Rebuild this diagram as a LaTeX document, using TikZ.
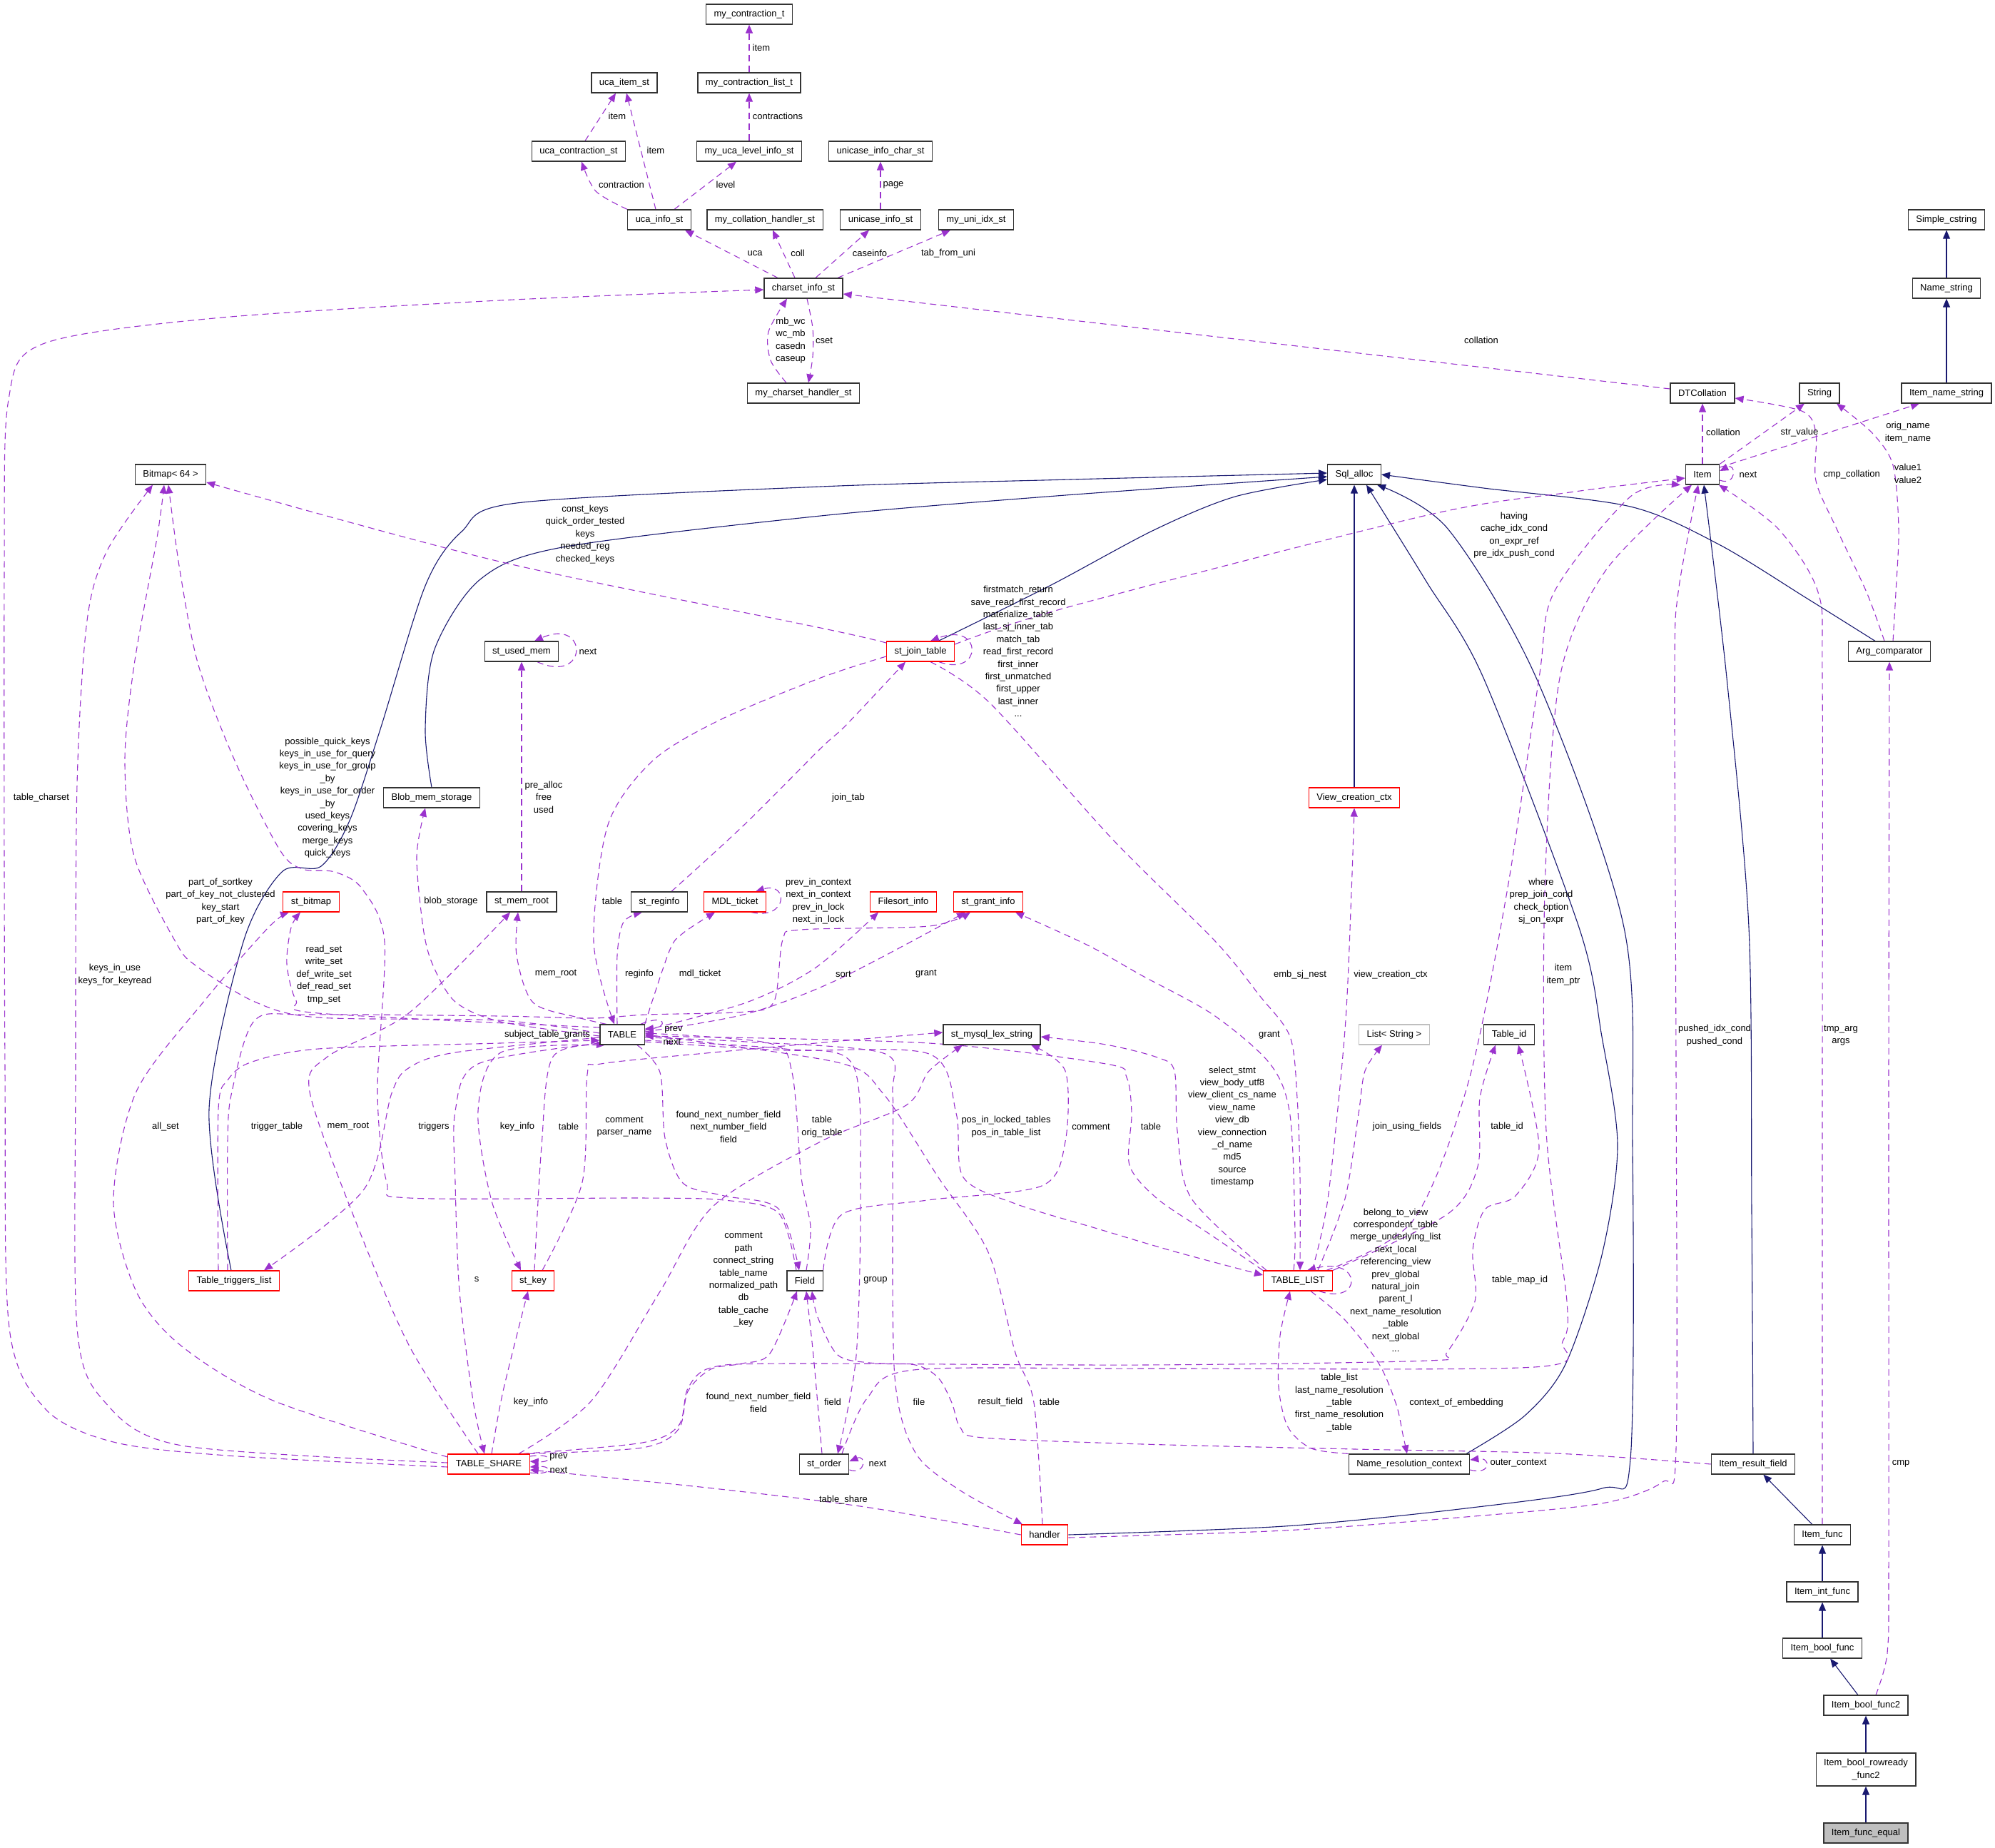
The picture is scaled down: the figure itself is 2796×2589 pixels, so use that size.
\documentclass[tikz,border=0pt]{standalone}
\usepackage{fontspec}
\setmainfont{Liberation Sans}
\usepackage{tikz}
\usetikzlibrary{arrows.meta, positioning, calc, backgrounds}
\definecolor{cUse}{RGB}{154,50,205}
\definecolor{cBase}{RGB}{25,25,112}
\definecolor{cTrunc}{RGB}{255,0,0}
\definecolor{cGray}{RGB}{191,191,191}
\newcommand{\dfont}{\fontsize{13}{17.4}\selectfont}
\tikzset{
	cls/.style={rectangle, draw=black!80, line width=1.2pt, fill=white, minimum height=28pt, inner xsep=11pt, inner ysep=0pt, text centered, align=center, font=\dfont},
	trunc/.style={cls, draw=cTrunc},
	extcls/.style={cls, draw=cGray},
	focus/.style={cls, fill=cGray},
	uses/.style={draw=cUse, line width=1.1pt, dash pattern=on 9pt off 6pt, -{Triangle[length=12pt, width=10pt]}},
	isa/.style={draw=cBase, line width=1.1pt, -{Triangle[length=12pt, width=10pt]}},
	% edge labels
	elabel/.style={font=\dfont, align=center, inner sep=0pt},
}

\begin{document}
\begin{tikzpicture}[x=1pt, y=-1pt]
\useasboundingbox (0,0) rectangle (2796,2589);
% classes
\node[cls] (mct) at (1050,20) {my\_contraction\_t};
\node[cls] (mclt) at (1050,116) {my\_contraction\_list\_t};
\node[cls] (ucaitem) at (875,116) {uca\_item\_st};
\node[cls] (ucacontr) at (811,212) {uca\_contraction\_st};
\node[cls] (mulis) at (1050,212) {my\_uca\_level\_info\_st};
\node[cls] (unichar) at (1234,212) {unicase\_info\_char\_st};
\node[cls] (ucainfo) at (924,308) {uca\_info\_st};
\node[cls] (mcoll) at (1072,308) {my\_collation\_handler\_st};
\node[cls] (uniinfo) at (1234,308) {unicase\_info\_st};
\node[cls] (uniidx) at (1368,308) {my\_uni\_idx\_st};
\node[cls] (simple) at (2728,308) {Simple\_cstring};
\node[cls] (charset) at (1126,404) {charset\_info\_st};
\node[cls] (namestr) at (2728,404) {Name\_string};
\node[cls] (mch) at (1126,551) {my\_charset\_handler\_st};
\node[cls] (dtc) at (2386,551) {DTCollation};
\node[cls] (string) at (2550,551) {String};
\node[cls] (itemname) at (2728,551) {Item\_name\_string};
\node[cls] (bitmap) at (239,665) {Bitmap< 64 >};
\node[cls] (sqlalloc) at (1898,665) {Sql\_alloc};
\node[cls] (item) at (2386,665) {Item};
\node[cls] (usedmem) at (731,913) {st\_used\_mem};
\node[trunc] (jointab) at (1290,913) {st\_join\_table};
\node[cls] (argcmp) at (2648,913) {Arg\_comparator};
\node[cls] (blob) at (605,1118) {Blob\_mem\_storage};
\node[trunc] (vcc) at (1898,1118) {View\_creation\_ctx};
\node[trunc] (bitmapst) at (436,1264) {st\_bitmap};
\node[cls] (memroot) at (731,1264) {st\_mem\_root};
\node[cls] (reginfo) at (924,1264) {st\_reginfo};
\node[trunc] (mdl) at (1030,1264) {MDL\_ticket};
\node[trunc] (filesort) at (1266,1264) {Filesort\_info};
\node[trunc] (grant) at (1385,1264) {st\_grant\_info};
\node[cls] (table) at (872,1450) {TABLE};
\node[cls] (lexstr) at (1390,1450) {st\_mysql\_lex\_string};
\node[extcls] (list) at (1954,1450) {List< String >};
\node[cls] (tableid) at (2115,1450) {Table\_id};
\node[trunc] (trig) at (328,1795) {Table\_triggers\_list};
\node[trunc] (key) at (747,1795) {st\_key};
\node[cls] (field) at (1128,1795) {Field};
\node[trunc] (tablelist) at (1819,1795) {TABLE\_LIST};
\node[trunc] (share) at (685,2052) {TABLE\_SHARE};
\node[cls] (order) at (1155,2052) {st\_order};
\node[cls] (nrc) at (1975,2052) {Name\_resolution\_context};
\node[cls] (irf) at (2457,2052) {Item\_result\_field};
\node[trunc] (handler) at (1464,2151) {handler};
\node[cls] (ifunc) at (2554,2151) {Item\_func};
\node[cls] (iint) at (2554,2231) {Item\_int\_func};
\node[cls] (ibool) at (2554,2310) {Item\_bool\_func};
\node[cls] (ibool2) at (2615,2390) {Item\_bool\_func2};
\node[cls, minimum height=46pt] (irr) at (2615,2480) {Item\_bool\_rowready\\\_func2};
\node[focus] (ieq) at (2615,2569) {Item\_func\_equal};

\begin{scope}[on background layer]
% charset cluster
\draw[uses] (mclt) -- (mct);
\draw[uses] (mulis) -- (mclt);
\draw[uses] ([xshift=9pt]ucacontr.north) -- ([xshift=-12pt]ucaitem.south);
\draw[uses] ([xshift=-5pt]ucainfo.north) -- ([xshift=3pt]ucaitem.south);
\draw[uses] plot[smooth] coordinates {(ucainfo.north west) (835,268) ([xshift=4pt]ucacontr.south)};
\draw[uses] ([xshift=21pt]ucainfo.north) -- ([xshift=-18pt]mulis.south);
\draw[uses] (uniinfo) -- (unichar);
\draw[uses] ([xshift=-36pt]charset.north) -- ([xshift=36pt]ucainfo.south);
\draw[uses] ([xshift=-12pt]charset.north) -- ([xshift=11pt]mcoll.south);
\draw[uses] ([xshift=17pt]charset.north) -- ([xshift=-16pt]uniinfo.south);
\draw[uses] ([xshift=48pt]charset.north) -- ([xshift=-36pt]uniidx.south);
\draw[uses] plot[smooth] coordinates {([xshift=-24pt]mch.north) (1080,505) (1077,465) ([xshift=-23pt]charset.south)};
\draw[uses] plot[smooth] coordinates {([xshift=5pt]charset.south) (1139,460) (1139,500) ([xshift=7pt]mch.north)};
\draw[uses] plot[smooth] coordinates {([yshift=-4pt]share.west) (319,2040) (159,2021) (64,1975) (13,1861) (7,1500) (6,800) (12,560) (60,482) (300,446) (700,421) ([yshift=-2pt]charset.west)};
\draw[uses] ([yshift=6pt]dtc.west) -- ([yshift=-8pt]charset.east);
% Item side
\draw[isa] (namestr) -- (simple);
\draw[isa] (itemname) -- (namestr);
\draw[uses] (item) -- (dtc);
\draw[uses] (item.north east) -- ([xshift=-21pt]string.south);
\draw[uses] ([yshift=10pt]item.east) -- ([xshift=-38pt]itemname.south);
\draw[uses] ([yshift=-8pt]item.east) .. controls (2434,682) and (2434,648) .. ([yshift=5pt]item.east);
\draw[uses] plot[smooth] coordinates {([xshift=-7pt]argcmp.north) (2616,830) (2574,741) (2545,674) (2545,607) (2525,576) ([yshift=-7pt]dtc.east)};
\draw[uses] plot[smooth] coordinates {([xshift=5pt]argcmp.north) (2657,830) (2661,741) (2653,652) (2624,607) ([xshift=24pt]string.south)};
\draw[isa] plot[smooth] coordinates {([xshift=-20pt]argcmp.north) (2533,839) (2409,763) (2285,710) (2079,684) (sqlalloc.east)};
\draw[isa] plot[smooth] coordinates {(irf.north) (2455,1700) (2451,1300) (2420,950) ([xshift=2pt]item.south)};
\draw[isa] (ifunc) -- (irf);
\draw[isa] (iint) -- (ifunc);
\draw[isa] (ibool) -- (iint);
\draw[isa] (ibool2) -- (ibool);
\draw[isa] (irr) -- (ibool2);
\draw[isa] (ieq) -- (irr);
\draw[uses] plot[smooth] coordinates {([xshift=14pt]ibool2.north) (2645,2317) (2647,2200) (2647,1500) (argcmp.south)};
\draw[uses] plot[smooth] coordinates {(ifunc.north) (2554,2000) (2554,1500) (2554,950) (2548,830) (2492,741) ([xshift=23pt]item.south)};
\draw[uses] plot[smooth] coordinates {([yshift=-4pt]handler.east) (1800,2145) (2054,2126) (2245,2107) (2330,2077) (2349,2030) (2349,1500) (2347,950) (2352,830) ([xshift=-6pt]item.south)};
% Sql_alloc bases
\draw[isa] plot[smooth] coordinates {(handler.east) (1800,2139) (2054,2114) (2245,2086) (2285,2045) (2288,1606) (2276,1300) (2153,950) (2029,741) ([xshift=32pt]sqlalloc.south)};
\draw[isa] plot[smooth] coordinates {([xshift=80pt]nrc.north) (2137,1984) (2194,1912) (2245,1759) (2267,1606) (2245,1453) (2213,1300) (2079,950) (1999,815) ([xshift=17pt]sqlalloc.south)};
\draw[isa] (vcc) -- (sqlalloc);
\draw[isa] plot[smooth] coordinates {([xshift=25pt]jointab.north) (1473,820) (1617,743) (1731,696) ([yshift=-7pt]sqlalloc.west)};
\draw[isa] plot[smooth] coordinates {(blob.north) (596,1022) (609,910) (673,812) (788,767) (1150,723) (1480,695) ([yshift=-3pt]sqlalloc.west)};
\draw[isa] plot[smooth] coordinates {([xshift=-4pt]trig.north) (293,1555) (341,1320) (395,1222) (450,1214) (490,1150) (533,1022) (596,821) (647,745) (724,705) (1150,682) (1500,672) ([yshift=2pt]sqlalloc.west)};
% Bitmap and memory
\draw[uses] plot[smooth] coordinates {([yshift=12pt]jointab.west) (1150,880) (700,787) ([yshift=-11pt]bitmap.east)};
\draw[uses] ([xshift=22pt]usedmem.south) .. controls (825,960) and (825,865) .. ([xshift=18pt]usedmem.north);
\draw[uses] (memroot) -- (usedmem);
\draw[uses] plot[smooth] coordinates {([yshift=2pt]table.west) (700,1430) (446,1426) (357,1404) (274,1353) (246,1320) (188,1200) (175,1066) (188,932) (220,754) ([xshift=-9pt]bitmap.south)};
\draw[uses] plot[smooth] coordinates {([xshift=-12pt]field.north) (1091,1700) (1015,1682) (900,1679) (574,1679) (542,1657) (529,1530) (539,1320) (507,1245) (469,1222) (424,1218) (392,1191) (329,1066) (278,932) (252,799) ([xshift=-3pt]bitmap.south)};
\draw[uses] plot[smooth] coordinates {([yshift=2pt]share.west) (255,2026) (147,1965) (108,1861) (106,1500) (108,1100) (122,870) (150,772) ([xshift=-25pt]bitmap.south)};
\draw[uses] plot[smooth] coordinates {([yshift=10pt]share.west) (383,1963) (255,1887) (191,1810) (159,1683) (191,1530) (287,1402) (376,1300) ([xshift=-31pt]bitmapst.south)};
\draw[uses] plot[smooth] coordinates {([yshift=10pt]table.west) (446,1420) (415,1402) (402,1351) (408,1300) ([xshift=-15pt]bitmapst.south)};
\draw[uses] plot[smooth] coordinates {([yshift=-2pt]table.west) (702,1432) (638,1404) (606,1351) (593,1300) (584,1200) ([xshift=-9pt]blob.south)};
\draw[uses] plot[smooth] coordinates {([xshift=-22pt]table.north) (810,1426) (747,1405) (724,1339) ([xshift=-5pt]memroot.south)};
\draw[uses] plot[smooth] coordinates {([xshift=-15pt]share.north) (574,1887) (497,1708) (434,1530) (459,1481) (574,1419) ([xshift=-16pt]memroot.south)};
% TABLE neighbourhood
\draw[uses] plot[smooth] coordinates {([yshift=-7pt]jointab.west) (1150,950) (1011,1008) (915,1066) (852,1156) (832,1320) ([xshift=-11pt]table.north)};
\draw[uses] plot[smooth] coordinates {([xshift=-7pt]table.north) (865,1339) (874,1292) ([xshift=-24pt]reginfo.south)};
\draw[uses] plot[smooth] coordinates {([xshift=17pt]reginfo.north) (1043,1156) (1150,1049) (1186,1016) ([xshift=-21pt]jointab.south)};
\draw[uses] plot[smooth] coordinates {(table.north east) (938,1333) (957,1308) ([xshift=-28pt]mdl.south)};
\draw[uses] ([xshift=23pt]mdl.south) .. controls (1105,1290) and (1105,1235) .. ([xshift=29pt]mdl.north);
\draw[uses] plot[smooth] coordinates {([yshift=6pt]table.east) (1046,1405) (1142,1357) ([xshift=-35pt]filesort.south)};
\draw[uses] plot[smooth] coordinates {([yshift=4pt]table.east) (1046,1421) (1174,1373) ([xshift=-32pt]grant.south)};
\draw[uses] plot[smooth] coordinates {([xshift=-9pt]trig.north) (319,1600) (325,1530) (357,1430) (434,1422) (700,1424) (829,1427) (906,1422) (1046,1418) (1085,1403) (1097,1317) (1123,1303) (1302,1298) ([xshift=-25pt]grant.south)};
\draw[uses] plot[smooth] coordinates {([xshift=-22pt]trig.north) (306,1555) (319,1514) (351,1489) (446,1470) (700,1462) ([yshift=-8pt]table.west)};
\draw[uses] plot[smooth] coordinates {([yshift=-4pt]table.west) (638,1475) (574,1496) (549,1532) (510,1667) ([xshift=42pt]trig.north)};
\draw[uses] plot[smooth] coordinates {([yshift=-12pt]table.west) (670,1491) (638,1557) (638,1657) (644,1810) (663,1963) ([xshift=-6pt]share.north)};
\draw[uses] plot[smooth] coordinates {(table.south west) (702,1475) (670,1557) (689,1683) ([xshift=-17pt]key.north)};
\draw[uses] plot[smooth] coordinates {([xshift=2pt]key.north) (759,1606) (775,1481) ([xshift=-24pt]table.south)};
\draw[uses] plot[smooth] coordinates {([xshift=13pt]key.north) (816,1657) (823,1506) (842,1491) (1000,1475) (1200,1457) ([yshift=3pt]lexstr.west)};
\draw[uses] plot[smooth] coordinates {([xshift=21pt]table.south) (925,1503) (932,1595) (957,1658) (1015,1676) (1091,1694) ([xshift=-8pt]field.north)};
\draw[uses] plot[smooth] coordinates {([xshift=2pt]field.north) (1136,1720) (1123,1650) (1110,1503) (1078,1462) ([yshift=2pt]table.east)};
\draw[uses] plot[smooth] coordinates {([yshift=-8pt]table.east) (1100,1470) (1195,1492) (1206,1658) (1200,1900) ([xshift=19pt]order.north)};
\draw[uses] plot[smooth] coordinates {([yshift=-4pt]table.east) (1046,1460) (1238,1476) (1251,1532) (1251,1650) (1254,1930) (1283,2036) (1346,2089) ([xshift=-31pt]handler.north)};
\draw[uses] plot[smooth] coordinates {([xshift=-3pt]handler.north) (1449,1966) (1423,1896) (1385,1755) (1315,1650) (1238,1533) (1174,1489) (table.east)};
\draw[uses] plot[smooth] coordinates {(tablelist.north west) (1693,1728) (1622,1680) (1583,1633) (1586,1561) (1579,1510) (1550,1491) (1302,1462) ([yshift=-2pt]table.east)};
\draw[uses] plot[smooth] coordinates {([yshift=-10pt]table.east) (1100,1472) (1302,1477) (1340,1560) (1350,1650) (1423,1687) (1538,1722) (1646,1754) ([yshift=8pt]tablelist.west)};
\draw[uses] ([xshift=-6pt]table.north east) .. controls (935,1420) and (935,1440) .. ([yshift=8pt]table.east);
% st_mysql_lex_string, Field, TABLE_SHARE
\draw[uses] plot[smooth] coordinates {([xshift=-44pt]tablelist.north) (1670,1680) (1650,1585) (1646,1501) (1622,1482) (1550,1464) ([yshift=-3pt]lexstr.east)};
\draw[uses] plot[smooth] coordinates {(field.north east) (1180,1702) (1300,1682) (1460,1662) (1493,1600) (1493,1501) ([xshift=55pt]lexstr.south)};
\draw[uses] plot[smooth] coordinates {([xshift=42pt]share.north) (829,1963) (925,1810) (1000,1690) (1150,1600) (1270,1549) (1302,1501) ([xshift=-41pt]lexstr.south)};
\draw[uses] plot[smooth] coordinates {([xshift=4pt]share.north) (705,1950) ([xshift=-7pt]key.south)};
\draw[uses] plot[smooth] coordinates {([xshift=-2pt]share.north east) (900,2029) (951,2003) (964,1950) (996,1919) (1040,1911) (1079,1897) ([xshift=-11pt]field.south)};
\draw[uses] plot[smooth] coordinates {([xshift=-3pt]order.north) (1140,1900) ([xshift=2pt]field.south)};
\draw[uses] ([yshift=-8pt]order.east) .. controls (1214,2068) and (1214,2038) .. ([yshift=4pt]order.east);
\draw[uses] plot[smooth] coordinates {(irf.west) (2181,2037) (1900,2031) (1602,2024) (1378,2015) (1346,2001) (1334,1966) (1315,1931) (1283,1913) (1219,1910) (1174,1899) (1146,1846) ([xshift=10pt]field.south)};
\draw[uses] plot[smooth] coordinates {(handler.west) (1219,2113) (1000,2086) ([yshift=-8pt]share.east)};
\draw[uses] ([yshift=11pt]share.east) .. controls (775,2036) and (775,2050) .. ([yshift=4pt]share.east);
\draw[uses] ([yshift=-12pt]share.east) .. controls (775,2068) and (775,2054) .. ([yshift=-4pt]share.east);
\draw[uses] plot[smooth] coordinates {([xshift=-10pt]share.north east) (900,2022) (951,1998) (964,1946) (996,1917) (1100,1911) (1600,1913) (2000,1907) (2028,1895) (2067,1824) (2064,1752) (2081,1695) (2124,1676) (2157,1609) ([xshift=13pt]tableid.south)};
\draw[uses] plot[smooth] coordinates {([xshift=25pt]order.north) (1215,1960) (1280,1920) (1600,1918) (2150,1916) (2190,1880) (2196,1824) (2167,1585) (2165,1250) (2186,950) (2250,800) ([xshift=-15pt]item.south)};
% st_join_table and TABLE_LIST
\draw[uses] plot[smooth] coordinates {([yshift=10pt]jointab.east) (1500,850) (2000,722) (2200,690) ([yshift=-5pt]item.west)};
\draw[uses] ([xshift=26pt]jointab.south) .. controls (1378,950) and (1378,870) .. ([xshift=14pt]jointab.north);
\draw[uses] plot[smooth] coordinates {([xshift=14pt]jointab.south) (1387,985) (1559,1176) (1703,1319) (1765,1395) (1808,1453) (1818,1539) (1822,1650) ([xshift=3pt]tablelist.north)};
\draw[uses] plot[smooth] coordinates {([xshift=20pt]tablelist.north) (1861,1680) (1885,1443) (1894,1250) (vcc.south)};
\draw[uses] plot[smooth] coordinates {([xshift=-6pt]tablelist.north) (1815,1728) (1808,1563) (1780,1491) (1700,1422) (1600,1367) (1525,1325) ([xshift=38pt]grant.south)};
\draw[uses] plot[smooth] coordinates {([xshift=28pt]tablelist.north) (1885,1680) (1904,1561) (1913,1501) ([xshift=-17pt]list.south)};
\draw[uses] plot[smooth] coordinates {(tablelist.north east) (2028,1702) (2071,1635) (2074,1539) ([xshift=-19pt]tableid.south)};
\draw[uses] plot[smooth] coordinates {([xshift=40pt]tablelist.north) (1980,1711) (2057,1520) (2112,1250) (2157,950) (2178,830) (2285,696) ([xshift=-31pt]item.south)};
\draw[uses] ([xshift=30pt]tablelist.south) .. controls (1910,1830) and (1910,1760) .. ([xshift=13pt]tablelist.north);
\draw[uses] plot[smooth] coordinates {(nrc.north west) (1838,2030) (1805,2000) (1792,1944) (1794,1872) ([xshift=-11pt]tablelist.south)};
\draw[uses] plot[smooth] coordinates {([xshift=18pt]tablelist.south) (1885,1850) (1933,1912) (1957,1969) (1966,2010) ([xshift=-3pt]nrc.north)};
\draw[uses] ([yshift=-8pt]nrc.east) .. controls (2090,2068) and (2090,2042) .. ([yshift=6pt]nrc.east);
\end{scope}

% edge labels
\foreach \px/\py/\txt [count=\i] in {
	1067/67/{item}, 1090/163/{contractions}, 865/163/{item}, 919/211/{item},
	871/259/{contraction}, 1017/259/{level}, 1252/259/{page},
	1058/355/{uca}, 1118/355/{coll}, 1219/355/{caseinfo}, 1329/355/{tab\_from\_uni},
	1108/477/{mb\_wc\\wc\_mb\\casedn\\caseup}, 1155/477/{cset}, 2076/477/{collation},
	2415/606/{collation}, 2522/606/{str\_value}, 2674/606/{orig\_name\\item\_name},
	2450/665/{next}, 2595/665/{cmp\_collation}, 2674/664/{value1\\value2},
	2122/750/{having\\cache\_idx\_cond\\on\_expr\_ref\\pre\_idx\_push\_cond},
	820/749/{const\_keys\\quick\_order\_tested\\keys\\needed\_reg\\checked\_keys},
	824/913/{next},
	1427/913/{firstmatch\_return\\save\_read\_first\_record\\materialize\_table\\last\_sj\_inner\_tab\\match\_tab\\read\_first\_record\\first\_inner\\first\_unmatched\\first\_upper\\last\_inner\\...},
	58/1118/{table\_charset},
	459/1118/{possible\_quick\_keys\\keys\_in\_use\_for\_query\\keys\_in\_use\_for\_group\\\_by\\keys\_in\_use\_for\_order\\\_by\\used\_keys\\covering\_keys\\merge\_keys\\quick\_keys},
	762/1117/{pre\_alloc\\free\\used}, 1189/1118/{join\_tab},
	309/1263/{part\_of\_sortkey\\part\_of\_key\_not\_clustered\\key\_start\\part\_of\_key},
	632/1263/{blob\_storage}, 858/1263/{table},
	1147/1263/{prev\_in\_context\\next\_in\_context\\prev\_in\_lock\\next\_in\_lock},
	2160/1263/{where\\prep\_join\_cond\\check\_option\\sj\_on\_expr},
	161/1366/{keys\_in\_use\\keys\_for\_keyread},
	454/1366/{read\_set\\write\_set\\def\_write\_set\\def\_read\_set\\tmp\_set},
	779/1365/{mem\_root}, 896/1365/{reginfo}, 981/1365/{mdl\_ticket}, 1182/1365/{sort}, 1298/1365/{grant},
	1822/1366/{emb\_sj\_nest}, 1949/1366/{view\_creation\_ctx}, 2191/1366/{item\\item\_ptr},
	767/1450/{subject\_table\_grants}, 944/1443/{prev}, 942/1460/{next}, 1779/1451/{grant},
	2403/1451/{pushed\_idx\_cond\\pushed\_cond}, 2580/1451/{tmp\_arg\\args},
	232/1579/{all\_set}, 388/1579/{trigger\_table}, 488/1579/{mem\_root}, 608/1579/{triggers},
	725/1579/{key\_info}, 797/1579/{table}, 875/1579/{comment\\parser\_name},
	1021/1579/{found\_next\_number\_field\\next\_number\_field\\field},
	1152/1579/{table\\orig\_table}, 1410/1579/{pos\_in\_locked\_tables\\pos\_in\_table\_list},
	1529/1579/{comment}, 1613/1579/{table},
	1727/1579/{select\_stmt\\view\_body\_utf8\\view\_client\_cs\_name\\view\_name\\view\_db\\view\_connection\\\_cl\_name\\md5\\source\\timestamp},
	1972/1579/{join\_using\_fields}, 2112/1579/{table\_id},
	668/1793/{s},
	1042/1794/{comment\\path\\connect\_string\\table\_name\\normalized\_path\\db\\table\_cache\\\_key},
	1227/1794/{group},
	1956/1794/{belong\_to\_view\\correspondent\_table\\merge\_underlying\_list\\next\_local\\referencing\_view\\prev\_global\\natural\_join\\parent\_l\\next\_name\_resolution\\\_table\\next\_global\\...},
	2130/1794/{table\_map\_id},
	744/1965/{key\_info}, 1063/1966/{found\_next\_number\_field\\field}, 1167/1965/{field},
	1288/1965/{file}, 1402/1965/{result\_field}, 1471/1965/{table},
	1877/1966/{table\_list\\last\_name\_resolution\\\_table\\first\_name\_resolution\\\_table},
	2041/1966/{context\_of\_embedding},
	783/2042/{prev}, 783/2060/{next}, 1230/2051/{next}, 2128/2051/{outer\_context}, 2664/2051/{cmp},
	1182/2102/{table\_share}}
	\node[elabel] (lab\i) at (\px,\py) {\txt};
\end{tikzpicture}
\end{document}
